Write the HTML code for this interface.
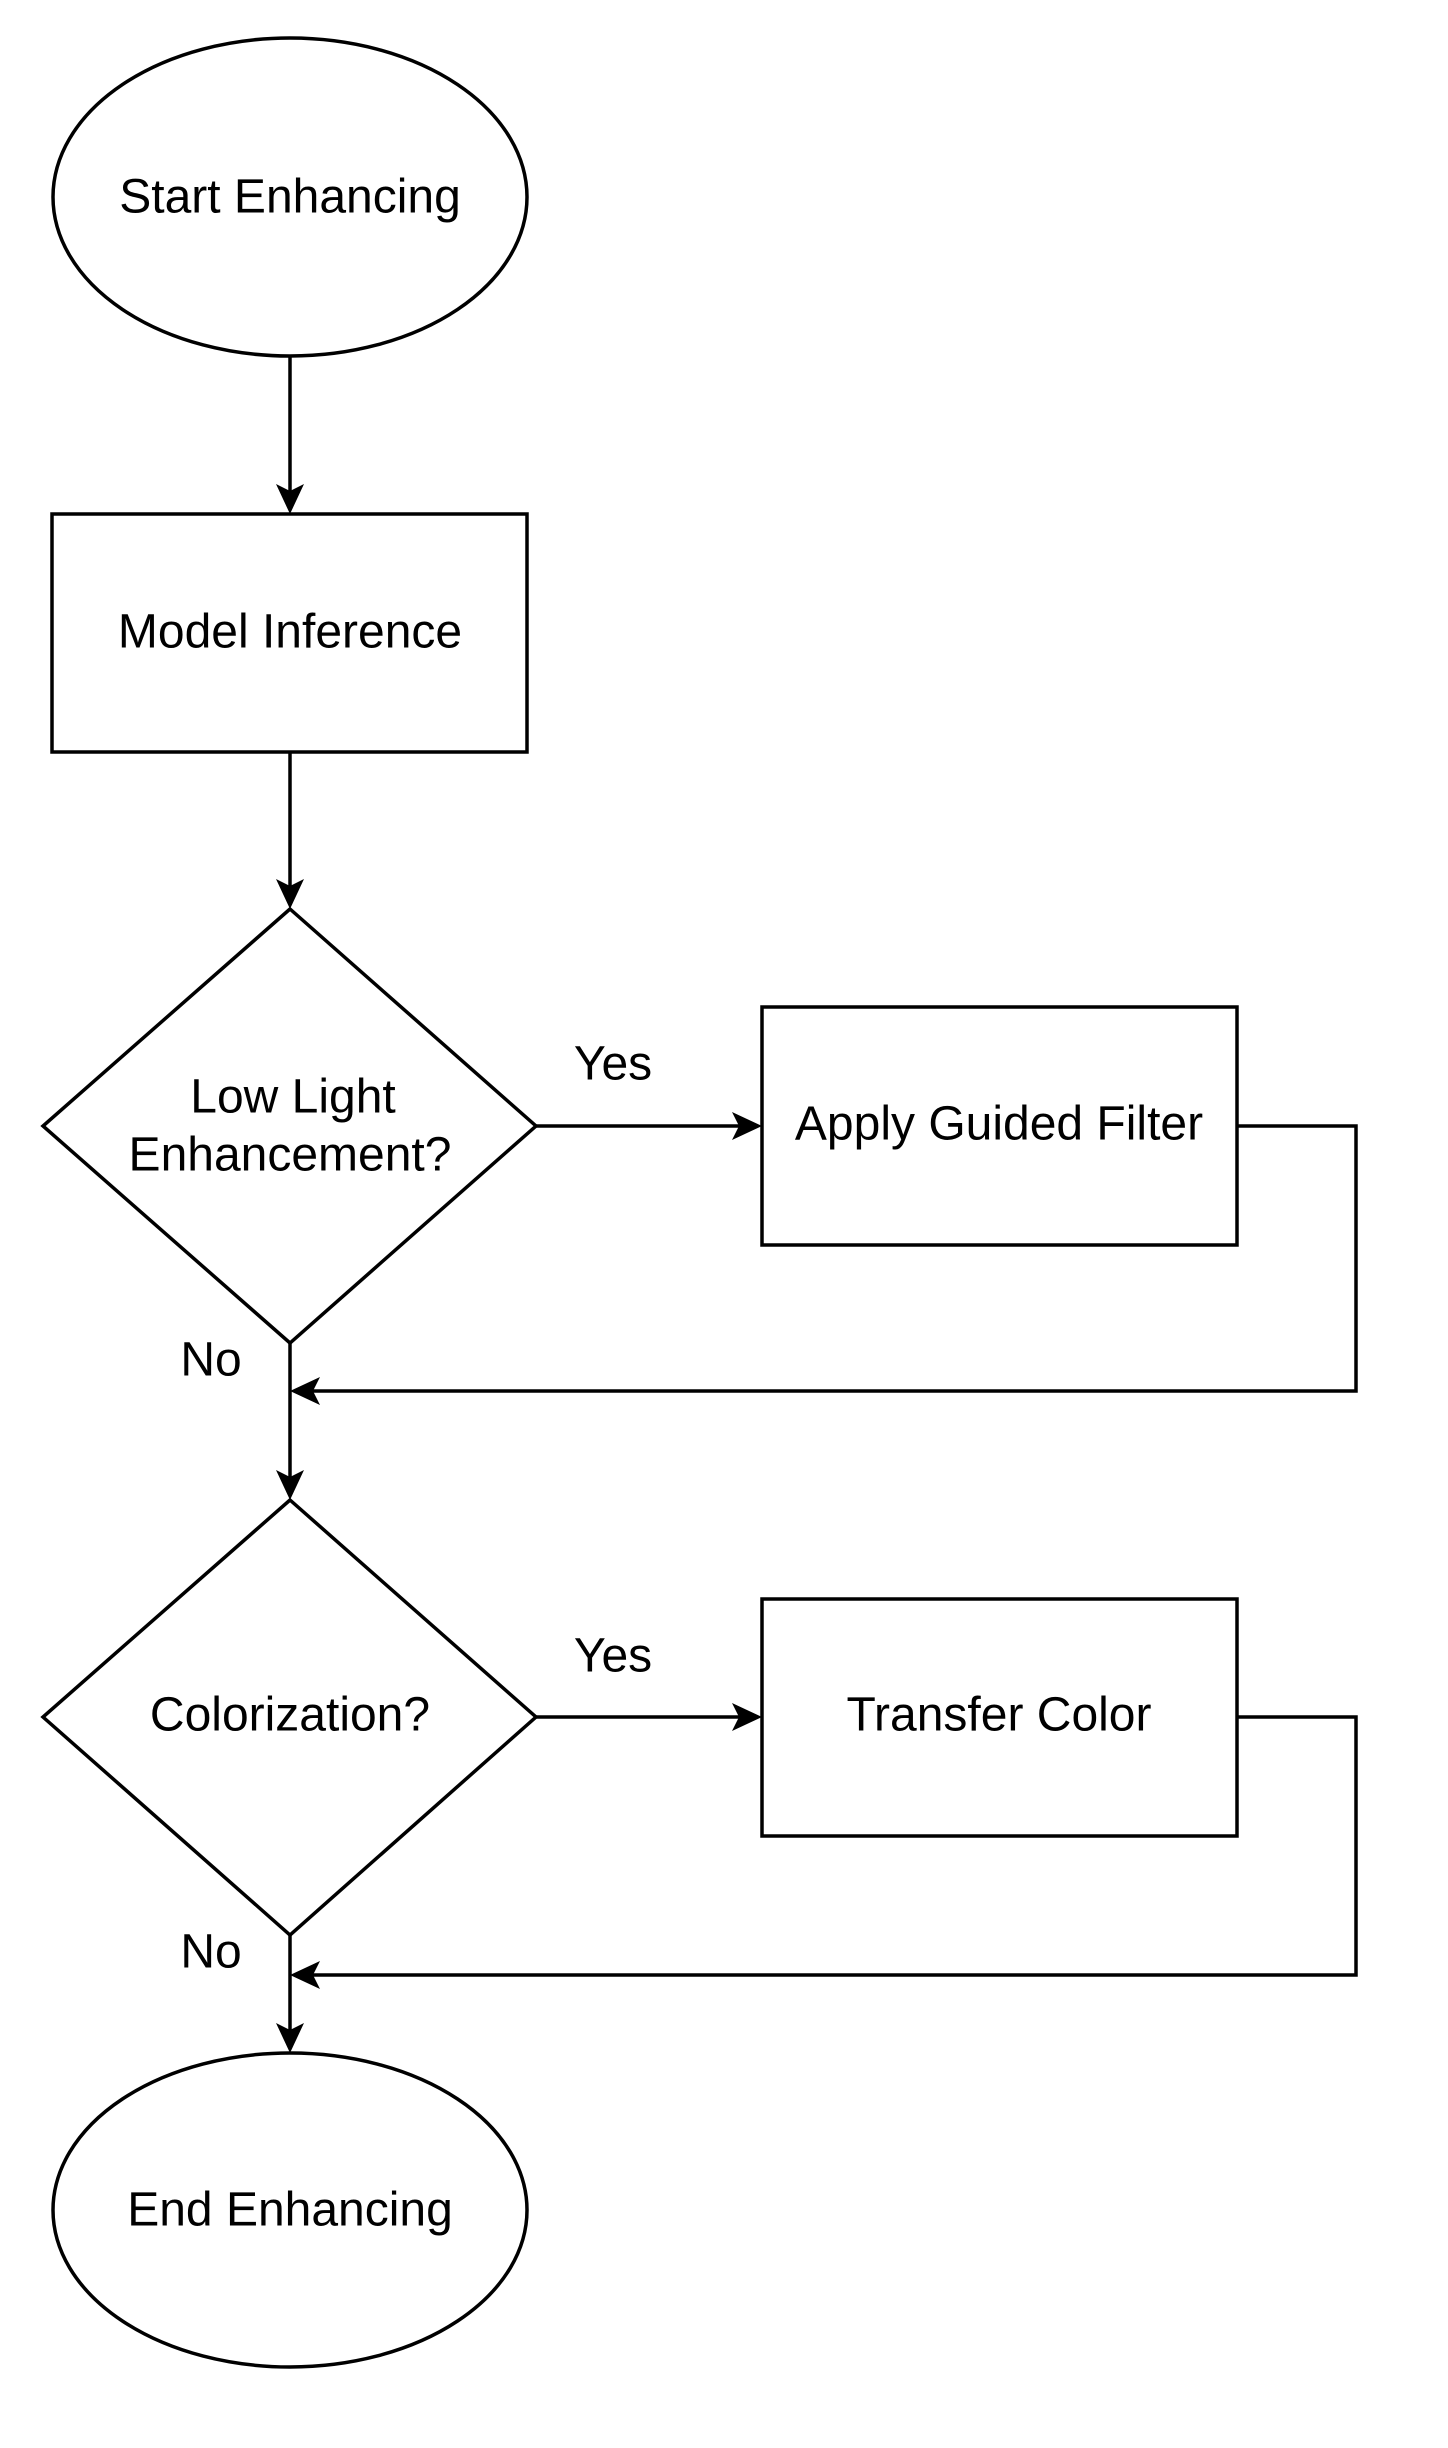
<!DOCTYPE html>
<html><head><style>
html,body{margin:0;padding:0;background:#fff;}
svg{display:block;}
text{font-family:"Liberation Sans",sans-serif;font-size:48px;fill:#000;text-anchor:middle;dominant-baseline:central;}
</style></head><body>
<svg width="1448" height="2448" viewBox="0 0 1448 2448" xmlns="http://www.w3.org/2000/svg">
<g fill="none" stroke="#000" stroke-width="3.5">
<ellipse cx="290" cy="197" rx="237" ry="159" fill="#fff"/>
<rect x="52" y="514" width="475" height="238" fill="#fff"/>
<polygon points="290,909 536,1126 290,1343 43,1126" fill="#fff"/>
<rect x="762" y="1007" width="475" height="238" fill="#fff"/>
<polygon points="290,1500 536,1717 290,1935 43,1717" fill="#fff"/>
<rect x="762" y="1599" width="475" height="237" fill="#fff"/>
<ellipse cx="290" cy="2210" rx="237" ry="157" fill="#fff"/>
<line x1="290" y1="356" x2="290" y2="500"/>
<line x1="290" y1="752" x2="290" y2="895"/>
<line x1="536" y1="1126" x2="748" y2="1126"/>
<polyline points="1237,1126 1356,1126 1356,1391 304,1391"/>
<line x1="290" y1="1343" x2="290" y2="1486"/>
<line x1="536" y1="1717" x2="748" y2="1717"/>
<polyline points="1237,1717 1356,1717 1356,1975 304,1975"/>
<line x1="290" y1="1935" x2="290" y2="2039"/>
</g>
<g fill="#000">
<polygon points="290,514 276,484 290,491 304,484"/>
<polygon points="290,909 276,879 290,886 304,879"/>
<polygon points="762,1126 732,1112 739,1126 732,1140"/>
<polygon points="290,1391 320,1377 313,1391 320,1405"/>
<polygon points="290,1500 276,1470 290,1477 304,1470"/>
<polygon points="762,1717 732,1703 739,1717 732,1731"/>
<polygon points="290,1975 320,1961 313,1975 320,1989"/>
<polygon points="290,2053 276,2023 290,2030 304,2023"/>
</g>
<text x="290" y="197">Start Enhancing</text>
<text x="290" y="632">Model Inference</text>
<text x="293" y="1097">Low Light</text>
<text x="290" y="1155">Enhancement?</text>
<text x="999" y="1124">Apply Guided Filter</text>
<text x="290" y="1715">Colorization?</text>
<text x="999" y="1715">Transfer Color</text>
<text x="290" y="2210">End Enhancing</text>
<text x="613" y="1064">Yes</text>
<text x="211" y="1360">No</text>
<text x="613" y="1656">Yes</text>
<text x="211" y="1952">No</text>
</svg>
</body></html>
